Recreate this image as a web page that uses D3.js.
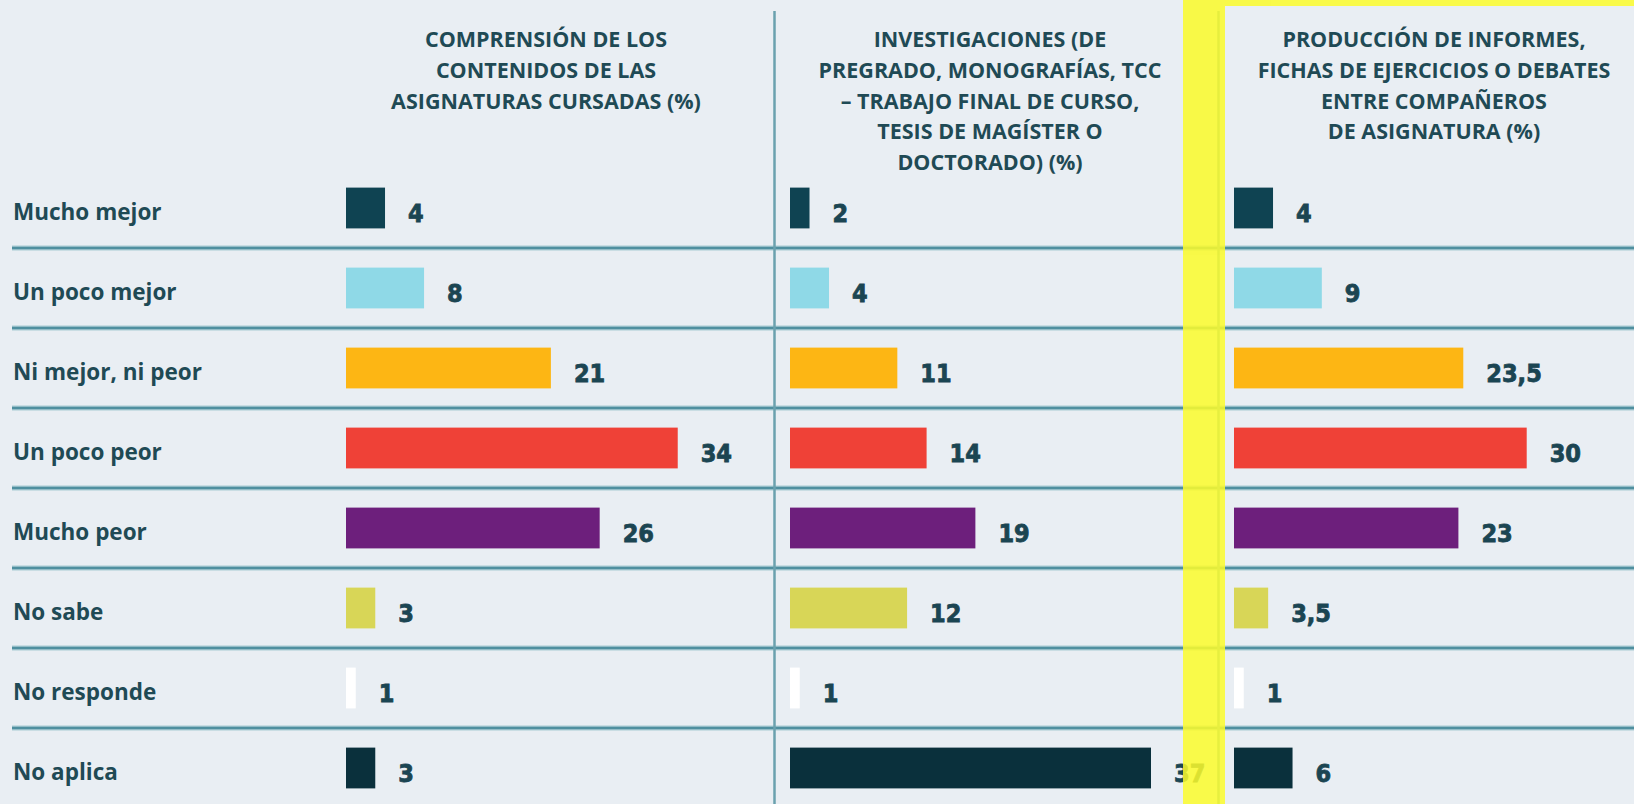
<!DOCTYPE html>
<html>
<head>
<meta charset="utf-8">
<script src="https://cdn.jsdelivr.net/npm/d3@7"></script>
<style>
  html, body { margin: 0; padding: 0; background: #e9eef3; }
  #chart { width: 1634px; height: 804px; overflow: hidden; }
</style>
</head>
<body>
<div id="chart"></div>
<script>
// Answer categories (rows)
const categories = ["Mucho mejor", "Un poco mejor", "Ni mejor, ni peor", "Un poco peor",
                    "Mucho peor", "No sabe", "No responde", "No aplica"];

// Values per panel (%)
const comprension = [4, 8, 21, 34, 26, 3, 1, 3];
const investigaciones = [2, 4, 11, 14, 19, 12, 1, 37];
const produccion = [4, 9, 23.5, 30, 23, 3.5, 1, 6];

// Panel titles, one entry per text line
const titleComprension = ["COMPRENSIÓN DE LOS", "CONTENIDOS DE LAS", "ASIGNATURAS CURSADAS (%)"];
const titleInvestigaciones = ["INVESTIGACIONES (DE", "PREGRADO, MONOGRAFÍAS, TCC",
                              "– TRABAJO FINAL DE CURSO,", "TESIS DE MAGÍSTER O", "DOCTORADO) (%)"];
const titleProduccion = ["PRODUCCIÓN DE INFORMES,", "FICHAS DE EJERCICIOS O DEBATES",
                         "ENTRE COMPAÑEROS", "DE ASIGNATURA (%)"];

const barColors = ["#0f4352", "#8fd9e7", "#fdb614", "#ef4137", "#6d1f7c", "#d8d657", "#ffffff", "#0a303c"];

const panels = [
    { title: titleComprension, values: comprension },
    { title: titleInvestigaciones, values: investigaciones },
    { title: titleProduccion, values: produccion }
];

const width = 1634, height = 804;
const textColor = "#1f4a55";

const svg = d3.select("#chart")
    .append("svg")
    .attr("width", width)
    .attr("height", height);

svg.append("rect")
    .attr("width", width)
    .attr("height", height)
    .attr("fill", "#e9eef3");

// Row positions
const y = d3.scaleBand()
    .domain(categories)
    .range([168, 808])
    .paddingInner(0.49)
    .paddingOuter(0.245);

// Bar length, same scale for all panels
const x = d3.scaleLinear().domain([0, 37]).range([0, 361]);

// Panel left edges
const col = d3.scalePoint().domain([0, 1, 2]).range([346, 1234]);

const step = y.step();

// Horizontal separators between rows
const sepY = categories.slice(1).map(c => y(c) - (step - y.bandwidth()) / 2);
const seps = svg.append("g");
seps.selectAll("line.halo")
    .data(sepY)
    .enter()
    .append("line")
    .attr("class", "halo")
    .attr("x1", 12).attr("x2", width)
    .attr("y1", d => d).attr("y2", d => d)
    .attr("stroke", "#aacbd4")
    .attr("stroke-width", 5);
seps.selectAll("line.core")
    .data(sepY)
    .enter()
    .append("line")
    .attr("class", "core")
    .attr("x1", 12).attr("x2", width)
    .attr("y1", d => d).attr("y2", d => d)
    .attr("stroke", "#4f8f9f")
    .attr("stroke-width", 2.5);

// Vertical dividers between panels
svg.append("g")
    .selectAll("line")
    .data([1, 2])
    .enter()
    .append("line")
    .attr("x1", d => col(d) - 15.5)
    .attr("x2", d => col(d) - 15.5)
    .attr("y1", 11)
    .attr("y2", height)
    .attr("stroke", "#6aa1ae")
    .attr("stroke-width", 2.5);

// Row labels
svg.append("g")
    .selectAll("text")
    .data(categories)
    .enter()
    .append("text")
    .attr("x", 13)
    .attr("y", d => y(d) + y.bandwidth() / 2 + 12)
    .attr("font-family", "'Open Sans', 'Noto Sans', sans-serif")
    .attr("font-weight", 700)
    .attr("font-size", "22.5px")
    .attr("fill", textColor)
    .text(d => d);

const fmt = v => String(v).replace(".", ",");

panels.forEach((p, i) => {
    const g = svg.append("g").attr("transform", `translate(${col(i)},0)`);

    // Title
    g.append("text")
        .attr("x", 200)
        .attr("text-anchor", "middle")
        .attr("font-family", "'Open Sans', 'Noto Sans', sans-serif")
        .attr("font-weight", 700)
        .attr("font-size", "21.5px")
        .attr("fill", textColor)
        .selectAll("tspan")
        .data(p.title)
        .enter()
        .append("tspan")
        .attr("x", 200)
        .attr("y", (d, j) => 47 + j * 30.8)
        .text(d => d);

    // Bars
    g.selectAll("rect")
        .data(p.values)
        .enter()
        .append("rect")
        .attr("x", 0)
        .attr("y", (d, j) => y(categories[j]))
        .attr("width", d => x(d))
        .attr("height", y.bandwidth())
        .attr("fill", (d, j) => barColors[j]);

    // Value labels
    g.selectAll("text.val")
        .data(p.values)
        .enter()
        .append("text")
        .attr("class", "val")
        .attr("x", d => x(d) + 23)
        .attr("y", (d, j) => y(categories[j]) + y.bandwidth() / 2 + 13.5)
        .attr("font-family", "'Liberation Sans Narrow', 'DejaVu Sans Condensed', sans-serif")
        .attr("font-weight", 700)
        .attr("font-size", "25px")
        .attr("fill", "#1b4552")
        .attr("stroke", "#1b4552")
        .attr("stroke-width", 0.8)
        .text(d => fmt(d));
});

// Yellow highlight around the third panel
const hl = svg.append("g").attr("opacity", 0.86);
hl.append("rect")
    .attr("x", col(2) - 51)
    .attr("y", 0)
    .attr("width", 42)
    .attr("height", height)
    .attr("fill", "#fbfb2c");
hl.append("rect")
    .attr("x", col(2) - 9)
    .attr("y", 0)
    .attr("width", width - col(2) + 9)
    .attr("height", 6)
    .attr("fill", "#fbfb2c");
</script>
</body>
</html>
